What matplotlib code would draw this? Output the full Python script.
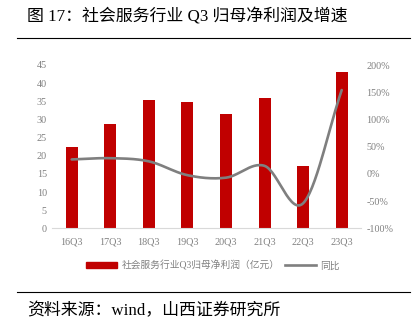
import numpy as np
import matplotlib
matplotlib.use("Agg")
import matplotlib.pyplot as plt
from matplotlib.lines import Line2D
from matplotlib.patches import Patch

categories = ["16Q3", "17Q3", "18Q3", "19Q3", "20Q3", "21Q3", "22Q3", "23Q3"]
profit = [22.4, 28.7, 35.3, 34.7, 31.5, 35.8, 17.1, 43.0]
yoy = [26.5, 28.8, 23.0, -2.4, -7.0, 14.7, -54.0, 154.0]
left_ticks = [0, 5, 10, 15, 20, 25, 30, 35, 40, 45]
right_ticks = [-100, -50, 0, 50, 100, 150, 200]

FAM = ["Liberation Serif", "Noto Sans CJK SC"]
plt.rcParams["font.family"] = FAM

W, H = 415, 324
fig = plt.figure(figsize=(W / 100, H / 100), dpi=100)

def fx(px):
    return px / W

def fy(py):
    return 1 - py / H

ax_l, ax_r, ax_t, ax_b = 52.4, 361.0, 65.0, 228.3
ax = fig.add_axes([fx(ax_l), fy(ax_b), fx(ax_r) - fx(ax_l), fy(ax_t) - fy(ax_b)])
x = np.arange(len(categories))
ax.bar(x, profit, width=0.31, color="#C00000", zorder=2)
ax.set_xlim(-0.5, len(categories) - 0.5)
ax.set_ylim(0, 45)
ax.set_yticks(left_ticks)
ax.set_xticks(x)
ax.set_xticklabels(categories)
for s in ["top", "right", "left"]:
    ax.spines[s].set_visible(False)
ax.spines["bottom"].set_color("#D9D9D9")
ax.tick_params(axis="both", length=0, labelsize=7.3, colors="#808080")
ax.tick_params(axis="y", pad=4)
ax.tick_params(axis="x", pad=6.5)

ax2 = ax.twinx()
ax2.set_ylim(-100, 200)
ax2.set_yticks(right_ticks)
ax2.set_yticklabels([f"{t}%" for t in right_ticks])
for s in ["top", "right", "left", "bottom"]:
    ax2.spines[s].set_visible(False)
ax2.tick_params(axis="y", length=0, labelsize=7.3, colors="#808080", pad=4)

# Catmull-Rom smoothing of the line through the data points
pts = np.column_stack([x.astype(float), np.array(yoy, dtype=float)])
ext = np.vstack([2 * pts[0] - pts[1], pts, 2 * pts[-1] - pts[-2]])
curve = []
for i in range(1, len(ext) - 2):
    p0, p1, p2, p3 = ext[i - 1], ext[i], ext[i + 1], ext[i + 2]
    for t in np.linspace(0, 1, 30, endpoint=False):
        t2, t3 = t * t, t * t * t
        c = 0.5 * ((2 * p1) + (-p0 + p2) * t + (2 * p0 - 5 * p1 + 4 * p2 - p3) * t2
                   + (-p0 + 3 * p1 - 3 * p2 + p3) * t3)
        curve.append(c)
curve.append(pts[-1])
curve = np.array(curve)
ax2.plot(curve[:, 0], curve[:, 1], color="#7F7F7F", lw=1.9, solid_capstyle="round", zorder=3)

# Title and rules
fig.text(fx(27), fy(16), "图 17：社会服务行业 Q3 归母净利润及增速", fontsize=12.2,
         va="center", ha="left", color="#000000", family=FAM)
fig.add_artist(Line2D([fx(17), fx(410)], [fy(37.5), fy(37.5)], color="#000000", lw=0.8))
fig.add_artist(Line2D([fx(17), fx(410)], [fy(291.5), fy(291.5)], color="#000000", lw=0.8))
fig.text(fx(27), fy(311), "资料来源：wind，山西证券研究所", fontsize=12.2,
         va="center", ha="left", color="#000000", family=FAM)

# Legend
handles = [Patch(color="#C00000"), Line2D([0], [0], color="#7F7F7F", lw=1.9)]
labels = ["社会服务行业Q3归母净利润（亿元）", "同比"]
leg = fig.legend(handles, labels, loc="center", bbox_to_anchor=(fx(213), fy(265.5)),
                 ncol=2, frameon=False, fontsize=7, handlelength=3.2, handleheight=0.5,
                 handletextpad=0.4, columnspacing=0.6, labelcolor="#808080")

fig.savefig("out.png", dpi=100)
